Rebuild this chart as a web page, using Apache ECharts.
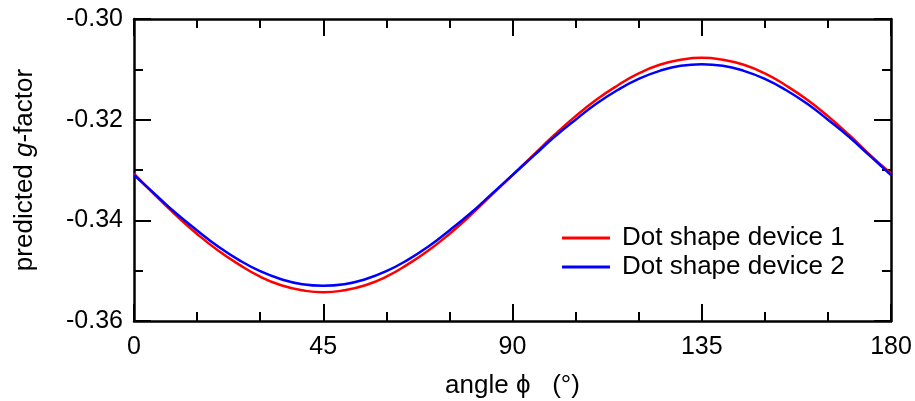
<!DOCTYPE html>
<html>
<head>
<meta charset="utf-8">
<script src="https://cdn.jsdelivr.net/npm/echarts@6/dist/echarts.min.js"></script>
<style>
  html, body { margin: 0; padding: 0; background: #fff; }
  #chart { width: 915px; height: 401px; }
</style>
</head>
<body>
<div id="chart"></div>
<script>
// angle phi (deg), sampled every 5 degrees
const angles = [0, 5, 10, 15, 20, 25, 30, 35, 40, 45, 50, 55, 60, 65, 70, 75, 80, 85, 90,
  95, 100, 105, 110, 115, 120, 125, 130, 135, 140, 145, 150, 155, 160, 165, 170, 175, 180];

// predicted g-factor
const device1 = [-0.3307, -0.3350, -0.3390, -0.3427, -0.3460, -0.3488, -0.3512, -0.3529, -0.3539, -0.3543,
  -0.3539, -0.3529, -0.3512, -0.3488, -0.3460, -0.3427, -0.3390, -0.3350, -0.3310,
  -0.3270, -0.3230, -0.3193, -0.3160, -0.3132, -0.3108, -0.3091, -0.3081, -0.3077,
  -0.3081, -0.3091, -0.3108, -0.3132, -0.3160, -0.3193, -0.3230, -0.3270, -0.3307];
const device2 = [-0.3310, -0.3348, -0.3386, -0.3420, -0.3452, -0.3479, -0.3501, -0.3517, -0.3527, -0.3530,
  -0.3527, -0.3517, -0.3501, -0.3479, -0.3452, -0.3420, -0.3386, -0.3348, -0.3310,
  -0.3272, -0.3234, -0.3200, -0.3168, -0.3141, -0.3119, -0.3103, -0.3093, -0.3090,
  -0.3093, -0.3103, -0.3119, -0.3141, -0.3168, -0.3200, -0.3234, -0.3272, -0.3310];

const seriesNames = ['Dot shape device 1', 'Dot shape device 2'];
const seriesColors = ['#ff0000', '#0000ff'];

const font = 'Liberation Sans, Arial, sans-serif';
const black = '#000';

function pairs(xs, ys) {
  return xs.map((x, i) => [x, ys[i]]);
}

const tickStyle = { color: black, width: 2 };

function xAxisCfg(pos, showLabels) {
  return {
    type: 'value', position: pos, min: 0, max: 180, interval: 45,
    name: showLabels ? 'angle \u03d5   (\u00b0)' : '',
    nameLocation: 'middle', nameGap: 52,
    nameTextStyle: { fontFamily: font, fontSize: 26, color: black },
    axisLine: { show: true, onZero: false, lineStyle: { color: black, width: 2.5 } },
    axisTick: { show: true, inside: true, length: 17, lineStyle: tickStyle },
    minorTick: { show: true, splitNumber: 3, length: 9, lineStyle: tickStyle },
    axisLabel: { show: showLabels, margin: 14, fontFamily: font, fontSize: 25, color: black },
    splitLine: { show: false }
  };
}

function yAxisCfg(pos, showLabels) {
  return {
    type: 'value', position: pos, min: -0.36, max: -0.30, interval: 0.02,
    name: showLabels ? 'predicted {i|g}-factor' : '',
    nameLocation: 'middle', nameGap: 96, nameRotate: 90,
    nameTextStyle: {
      fontFamily: font, fontSize: 26, color: black,
      rich: { i: { fontFamily: font, fontSize: 26, fontStyle: 'italic', color: black } }
    },
    axisLine: { show: true, onZero: false, lineStyle: { color: black, width: 2.5 } },
    axisTick: { show: true, inside: true, length: 17, lineStyle: tickStyle },
    minorTick: { show: true, splitNumber: 2, length: 9, lineStyle: tickStyle },
    axisLabel: {
      show: showLabels, margin: 11, fontFamily: font, fontSize: 25, color: black,
      formatter: v => v.toFixed(2)
    },
    splitLine: { show: false }
  };
}

const chart = echarts.init(document.getElementById('chart'));
chart.setOption({
  animation: false,
  backgroundColor: '#fff',
  grid: { left: 134, right: 24, top: 19, bottom: 80, containLabel: false, outerBoundsMode: 'none' },
  legend: {
    orient: 'vertical', left: 557, top: 220,
    itemWidth: 48, itemHeight: 3, itemGap: 3, icon: 'rect',
    textStyle: { fontFamily: font, fontSize: 26, color: black, lineHeight: 26, padding: [0, 0, 0, 7] },
    data: seriesNames
  },
  xAxis: [xAxisCfg('bottom', true), xAxisCfg('top', false)],
  yAxis: [yAxisCfg('left', true), yAxisCfg('right', false)],
  series: seriesNames.map((name, i) => ({
    name: name,
    type: 'line',
    xAxisIndex: 0, yAxisIndex: 0,
    smooth: true,
    showSymbol: false,
    color: seriesColors[i],
    lineStyle: { color: seriesColors[i], width: 2.5 },
    data: pairs(angles, i === 0 ? device1 : device2)
  }))
});
</script>
</body>
</html>
